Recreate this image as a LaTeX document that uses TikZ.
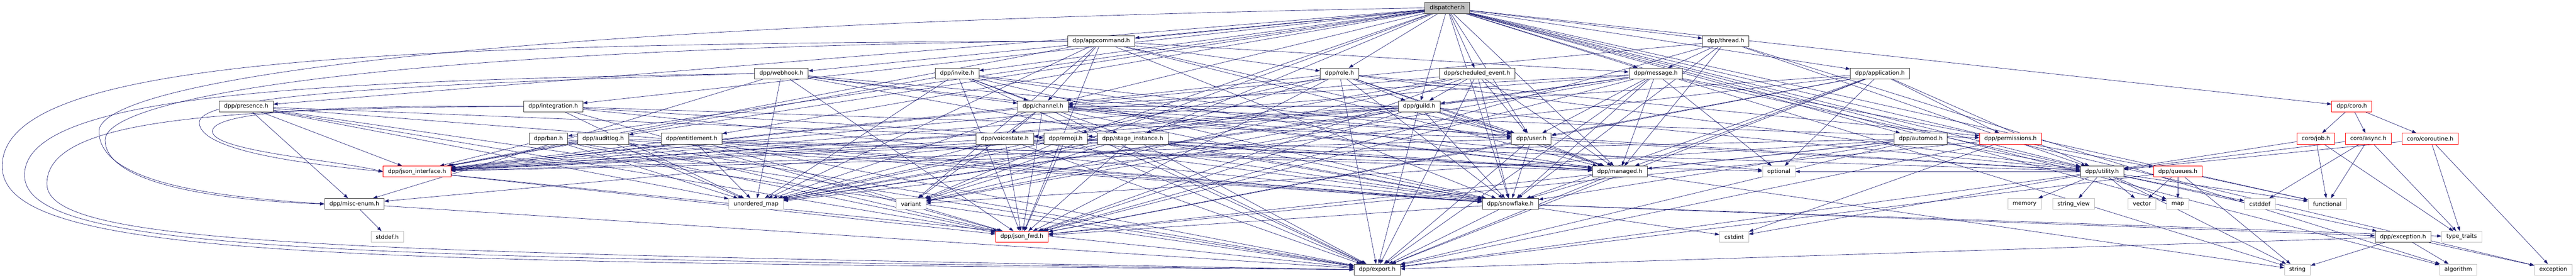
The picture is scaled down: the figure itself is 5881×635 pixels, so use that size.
\documentclass[tikz,border=0pt]{standalone}
\usepackage{fontspec}
\setmainfont{DejaVu Sans}
\usetikzlibrary{arrows.meta,backgrounds}
\definecolor{edgeblue}{RGB}{25,25,112}
\definecolor{boxgray}{RGB}{64,64,64}
\definecolor{sysgray}{RGB}{191,191,191}
\definecolor{rootgray}{RGB}{191,191,191}
\newcommand\hdrfont{\fontsize{13}{15}\selectfont}
\tikzset{
  hdr/.style={draw=boxgray, fill=white, font=\hdrfont, line width=1pt,
    inner xsep=11pt, inner ysep=0pt, minimum height=25pt},
  hdrtrunc/.style={hdr, draw=red},
  hdrsys/.style={hdr, draw=sysgray},
  hdrroot/.style={hdr, fill=rootgray},
  incl/.style={draw=edgeblue, line width=0.8pt, -{Triangle[length=10pt,width=7pt]}},
}
\begin{document}
\begin{tikzpicture}[x=1pt, y=-1pt]
  \useasboundingbox (0,0) rectangle (5881,635);
  % rank 0 and 1
  \node [hdrroot] (disp) at (3304,18) {dispatcher.h};
  \node [hdr] (appcmd) at (2514,94) {dpp/appcommand.h};
  \node [hdr] (thread) at (3940,94) {dpp/thread.h};
  % rank 2
  \node [hdr] (webhook) at (1784,168) {dpp/webhook.h};
  \node [hdr] (invite) at (2185,168) {dpp/invite.h};
  \node [hdr] (role) at (3058,168) {dpp/role.h};
  \node [hdr] (sched) at (3372,168) {dpp/scheduled\_event.h};
  \node [hdr] (message) at (3780,168) {dpp/message.h};
  \node [hdr] (app) at (4292,168) {dpp/application.h};
  % rank 3
  \node [hdr] (presence) at (562,243) {dpp/presence.h};
  \node [hdr] (integ) at (1263,243) {dpp/integration.h};
  \node [hdr] (channel) at (2381,243) {dpp/channel.h};
  \node [hdr] (guild) at (3240,243) {dpp/guild.h};
  \node [hdrtrunc] (coro) at (5369,243) {dpp/coro.h};
  % rank 4
  \node [hdr] (ban) at (1252,317) {dpp/ban.h};
  \node [hdr] (auditlog) at (1377,317) {dpp/auditlog.h};
  \node [hdr] (entitle) at (1579,317) {dpp/entitlement.h};
  \node [hdr] (voice) at (2294,317) {dpp/voicestate.h};
  \node [hdr] (emoji) at (2433,317) {dpp/emoji.h};
  \node [hdr] (stage) at (2586,317) {dpp/stage\_instance.h};
  \node [hdr] (user) at (3496,317) {dpp/user.h};
  \node [hdr] (automod) at (4385,317) {dpp/automod.h};
  \node [hdrtrunc] (perms) at (4590,317) {dpp/permissions.h};
  \node [hdrtrunc] (job) at (5287,317) {coro/job.h};
  \node [hdrtrunc] (async) at (5407,317) {coro/async.h};
  \node [hdrtrunc] (coroutine) at (5548,317) {coro/coroutine.h};
  % rank 5
  \node [hdrtrunc] (jsonif) at (952,392) {dpp/json\_interface.h};
  \node [hdr] (managed) at (3698,392) {dpp/managed.h};
  \node [hdrsys] (optional) at (4061,392) {optional};
  \node [hdr] (utility) at (4799,392) {dpp/utility.h};
  \node [hdrtrunc] (queues) at (4972,392) {dpp/queues.h};
  % rank 6
  \node [hdr] (misc) at (809,466) {dpp/misc-enum.h};
  \node [hdrsys] (umap) at (1726,466) {unordered\_map};
  \node [hdrsys] (variant) at (2080,466) {variant};
  \node [hdr] (snow) at (3448,466) {dpp/snowflake.h};
  \node [hdrsys] (memory) at (4622,466) {memory};
  \node [hdrsys] (strview) at (4734,466) {string\_view};
  \node [hdrsys] (vector) at (4890,466) {vector};
  \node [hdrsys] (map) at (4972,466) {map};
  \node [hdrsys] (cstddef) at (5159,466) {cstddef};
  \node [hdrsys] (functional) at (5313,466) {functional};
  % rank 7 and 8
  \node [hdrsys] (stddef) at (884,541) {stddef.h};
  \node [hdrtrunc] (jsonfwd) at (2333,541) {dpp/json\_fwd.h};
  \node [hdrsys] (cstdint) at (3959,541) {cstdint};
  \node [hdr] (exch) at (5486,541) {dpp/exception.h};
  \node [hdrsys] (typetr) at (5620,541) {type\_traits};
  \node [hdr] (export) at (3144,616) {dpp/export.h};
  \node [hdrsys] (string) at (5245,616) {string};
  \node [hdrsys] (algorithm) at (5612,616) {algorithm};
  \node [hdrsys] (exception) at (5829,616) {exception};

  \begin{scope}[on background layer]
    \foreach \a/\b in {disp/appcmd, disp/thread, disp/webhook, disp/invite, disp/role,
      disp/sched, disp/message, disp/app, disp/presence, disp/integ, disp/channel,
      disp/guild, disp/coro, disp/ban, disp/auditlog, disp/entitle, disp/emoji,
      disp/stage, disp/user, disp/automod, disp/managed, disp/snow, disp/utility,
      disp/variant, disp/functional, disp/string, disp/algorithm, disp/exception, disp/map,
      appcmd/channel, appcmd/role, appcmd/user, appcmd/message, appcmd/managed,
      appcmd/snow, appcmd/jsonif, appcmd/jsonfwd, appcmd/variant, appcmd/umap,
      thread/message, thread/managed, thread/channel, thread/utility, thread/jsonfwd,
      thread/snow, thread/algorithm,
      webhook/misc, webhook/managed, webhook/snow, webhook/jsonfwd, webhook/umap,
      webhook/channel, webhook/user,
      invite/channel, invite/stage, invite/user, invite/managed, invite/snow,
      invite/jsonfwd, invite/jsonif, invite/umap, invite/export,
      role/guild, role/export, role/user, role/perms, role/managed, role/snow,
      role/utility, role/jsonfwd, role/jsonif, role/umap, role/variant,
      sched/guild, sched/user, sched/export, sched/managed, sched/snow, sched/jsonfwd,
      sched/jsonif, sched/umap, sched/variant,
      message/managed, message/optional, message/user, message/channel, message/guild,
      message/snow, message/jsonfwd, message/jsonif, message/utility, message/umap,
      message/variant, message/export, message/queues,
      app/perms, app/user, app/managed, app/snow, app/utility, app/jsonfwd, app/jsonif,
      app/optional, app/export, app/umap,
      presence/emoji, presence/snow, presence/jsonif, presence/jsonfwd, presence/umap,
      presence/misc, presence/export,
      integ/user, integ/managed, integ/snow, integ/jsonfwd, integ/umap,
      channel/voice, channel/perms, channel/managed, channel/snow, channel/utility,
      channel/jsonfwd, channel/jsonif, channel/umap, channel/variant, channel/optional,
      channel/export,
      guild/user, guild/voice, guild/channel, guild/emoji, guild/managed, guild/snow,
      guild/utility, guild/jsonfwd, guild/jsonif, guild/umap, guild/variant, guild/export,
      coro/job, coro/async, coro/coroutine,
      ban/snow, ban/jsonif, ban/jsonfwd, ban/umap, ban/export,
      auditlog/snow, auditlog/jsonif, auditlog/jsonfwd, auditlog/optional, auditlog/umap,
      auditlog/export,
      entitle/snow, entitle/managed, entitle/jsonfwd, entitle/umap, entitle/jsonif,
      entitle/export,
      voice/jsonfwd, voice/snow, voice/jsonif, voice/umap, voice/export,
      emoji/jsonfwd, emoji/snow, emoji/misc, emoji/managed, emoji/utility, emoji/jsonif,
      emoji/umap, emoji/variant, emoji/export,
      stage/jsonfwd, stage/snow, stage/managed, stage/jsonif, stage/umap, stage/export,
      user/snow, user/jsonfwd, user/jsonif, user/utility, user/managed, user/export,
      automod/utility, automod/snow, automod/managed, automod/jsonfwd, automod/jsonif,
      automod/variant, automod/export,
      perms/jsonfwd, perms/export, perms/cstdint,
      job/utility, job/typetr, job/functional,
      async/utility, async/cstddef, async/functional, async/typetr,
      coroutine/utility, coroutine/typetr, coroutine/exception,
      jsonif/jsonfwd, jsonif/export,
      managed/snow, managed/string, managed/export,
      utility/memory, utility/strview, utility/vector, utility/map, utility/cstddef,
      utility/functional, utility/string, utility/exch, utility/optional,
      utility/cstdint, utility/export,
      queues/vector, queues/map, queues/functional, queues/string, queues/export,
      snow/export, snow/jsonfwd, snow/cstdint, snow/typetr, snow/exch,
      misc/stddef, misc/export,
      exch/algorithm, exch/exception, exch/string, exch/export}
      \draw [incl] (\a) -- (\b);
    % edges routed round the left side
    \draw [incl] (appcmd.west) .. controls (800,100) and (5,140) .. (5,380)
      .. controls (5,595) and (800,598) .. (export.west);
    \draw [incl] (webhook.west) .. controls (700,185) and (56,215) .. (56,400)
      .. controls (56,580) and (800,588) .. (export.west);
    \draw [incl] (integ.west) .. controls (500,248) and (107,270) .. (107,420)
      .. controls (107,565) and (800,575) .. (export.west);
    \draw [incl] (disp.west) .. controls (900,60) and (226,200) .. (226,300)
      .. controls (226,420) and (500,450) .. (misc.west);
    \draw [incl] (appcmd.west) .. controls (900,110) and (240,220) .. (240,320)
      .. controls (240,430) and (550,460) .. (misc.west);
    \draw [incl] (webhook.west) .. controls (800,195) and (455,225) .. (455,280)
      .. controls (455,345) and (700,375) .. (jsonif.west);
    \draw [incl] (integ.west) .. controls (750,240) and (485,255) .. (485,300)
      .. controls (485,345) and (760,365) .. (jsonif.west);
  \end{scope}
\end{tikzpicture}
\end{document}
